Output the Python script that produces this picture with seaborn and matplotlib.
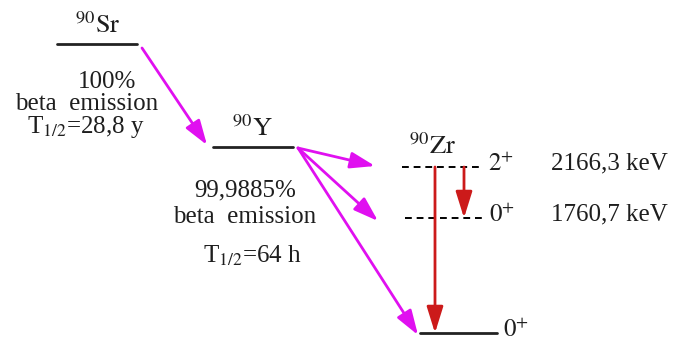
import matplotlib
matplotlib.use('Agg')
import matplotlib.pyplot as plt
import seaborn as sns
import pandas as pd

sns.set_style('white')
plt.rcParams['font.family'] = ['Liberation Serif', 'DejaVu Serif']
plt.rcParams['mathtext.fontset'] = 'stix'
plt.rcParams['text.color'] = '#1e1e1e'

# nuclear levels (drawing units: x right, y down)
level_names = ['Sr', 'Y', 'Zr_2', 'Zr_0e', 'Zr_0g']
level_x0 = [57, 213, 402, 405, 420]
level_x1 = [137, 293, 482, 483, 497]
level_y = [44, 147, 167, 218, 333]
level_dashed = [False, False, True, True, False]
spin_labels = ['', '', '$2^{+}$', '$0^{+}$', '$0^{+}$']
energy_labels = ['', '', '2166,3 keV', '1760,7 keV', '']

# beta transitions (from level -> to level)
beta_from = [(142, 48), (298, 148), (298, 148), (298, 148)]
beta_to = [(207, 145), (375, 166), (378, 221), (418, 335)]

# gamma transitions
gamma_x = [435, 464]
gamma_y0 = [167, 167]
gamma_y1 = [333, 218]

levels = pd.DataFrame({'name': level_names, 'x0': level_x0, 'x1': level_x1,
                       'y': level_y, 'dashed': level_dashed,
                       'spin': spin_labels, 'energy': energy_labels})

fig, ax = plt.subplots(figsize=(6.75, 3.42), dpi=100)
fig.subplots_adjust(0, 0, 1, 1)
ax.set_xlim(0, 675)
ax.set_ylim(342, 0)
ax.axis('off')

fs = 18

for _, r in levels.iterrows():
    if r['dashed']:
        ax.plot([r['x0'], r['x1']], [r['y'], r['y']], color='black', lw=1.4,
                ls=(0, (3.5, 2.5)))
    else:
        sns.lineplot(x=[r['x0'], r['x1']], y=[r['y'], r['y']], color='#222222',
                     lw=2, ax=ax)
    if r['spin']:
        ax.text(r['x1'] + 6, r['y'] - 3, r['spin'], fontsize=fs, va='center', ha='left')
    if r['energy']:
        ax.text(609, r['y'] - 4, r['energy'], fontsize=fs, va='center', ha='center')

# beta arrows
for s, e in zip(beta_from, beta_to):
    ax.annotate('', xy=e, xytext=s,
                arrowprops=dict(arrowstyle='-|>,head_length=1.5,head_width=0.5',
                                color='#e010f0', lw=2, shrinkA=0, shrinkB=0))

# gamma arrows
for gx, g0, g1 in zip(gamma_x, gamma_y0, gamma_y1):
    ax.annotate('', xy=(gx, g1), xytext=(gx, g0),
                arrowprops=dict(arrowstyle='-|>,head_length=1.6,head_width=0.5',
                                color='#cc1a1a', lw=2, shrinkA=0, shrinkB=0))

# nuclide labels
ax.text(98, 38, r'$^{90}\mathrm{Sr}$', fontsize=19, ha='center', va='bottom')
ax.text(252, 141, r'$^{90}\mathrm{Y}$', fontsize=19, ha='center', va='bottom')
ax.text(433, 159, r'$^{90}\mathrm{Zr}$', fontsize=19, ha='center', va='bottom')

# decay info
ax.text(107, 82, '100%', fontsize=fs, ha='center', va='center')
ax.text(87, 104, 'beta  emission', fontsize=fs, ha='center', va='center')
ax.text(86, 127, r'T$_{1/2}$=28,8 y', fontsize=fs, ha='center', va='center')
ax.text(245, 190, '99,9885%', fontsize=fs, ha='center', va='center')
ax.text(245, 217, 'beta  emission', fontsize=fs, ha='center', va='center')
ax.text(252, 256, r'T$_{1/2}$=64 h', fontsize=fs, ha='center', va='center')

plt.savefig('out.png', dpi=100)
